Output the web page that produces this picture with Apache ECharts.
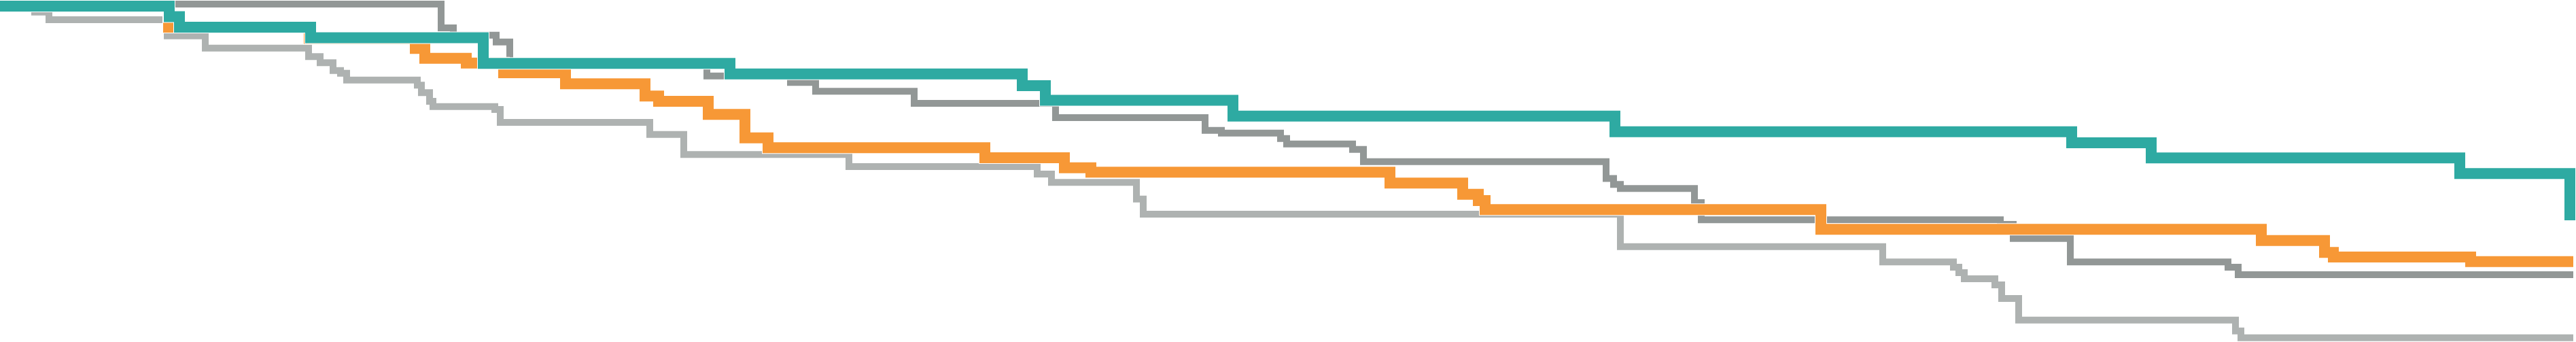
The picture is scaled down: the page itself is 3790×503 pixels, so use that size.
<!DOCTYPE html>
<html>
<head>
<meta charset="utf-8">
<script src="https://cdn.jsdelivr.net/npm/echarts@6/dist/echarts.min.js"></script>
<style>
html,body{margin:0;padding:0;background:#fff;}
#c{width:3790px;height:503px;}
</style>
</head>
<body>
<div id="c"></div>
<script>
// Survival (%) step curves, time in days
const tealTime = [0, 249, 264, 457, 711, 1074, 1504, 1538, 1814, 2376, 3048, 3165, 3619, 3781];
const tealSurv = [100, 98.45, 96.9, 95.35, 91.57, 90.03, 88.3, 86.15, 83.83, 81.53, 79.9, 77.67, 75.37, 68.5];

const orangeTime = [0, 248, 455, 611, 625, 686, 741, 832, 949, 969, 1042, 1096, 1130, 1449, 1566, 1605, 2045, 2152, 2175, 2185, 2679, 3327, 3420, 3433, 3635, 3786];
const orangeSurv = [100, 96.9, 95.25, 93.77, 92.33, 91.63, 90.2, 88.57, 86.77, 86.0, 84.07, 80.63, 79.17, 77.7, 76.23, 75.57, 73.97, 72.33, 71.4, 70.07, 67.17, 65.53, 63.77, 63.1, 62.43, 62.43];

const grayTime = [0, 649, 667, 730, 750, 1040, 1163, 1200, 1345, 1553, 1773, 1797, 1884, 1893, 1990, 2006, 2363, 2374, 2384, 2493, 2503, 2943, 2962, 3046, 3278, 3293, 3786];
const graySurv = [100.3, 96.8, 95.73, 94.73, 91.9, 89.73, 88.77, 87.47, 85.7, 83.6, 81.73, 81.33, 80.53, 79.73, 78.92, 77.13, 74.65, 73.77, 73.17, 71.1, 68.57, 67.9, 65.83, 62.38, 61.6, 60.5, 60.5];

const lightTime = [0, 51, 72, 246, 302, 454, 471, 490, 501, 510, 614, 620, 632, 637, 728, 736, 956, 1006, 1249, 1526, 1547, 1672, 1682, 2384, 2770, 2874, 2882, 2890, 2935, 2945, 2970, 3289, 3297, 3786];
const lightSurv = [100.3, 99.13, 98.0, 95.63, 93.83, 92.57, 91.67, 90.53, 90.13, 89.13, 88.37, 87.27, 86.0, 85.23, 84.8, 82.9, 81.13, 78.17, 76.4, 75.3, 74.07, 71.63, 69.4, 64.63, 62.37, 61.6, 60.8, 59.9, 59.0, 57.0, 53.83, 52.23, 51.23, 51.23];

function pairs(t, s) { return t.map((x, i) => [x, s[i]]); }

const groups = [
  {name: 'light', t: lightTime, s: lightSurv, color: '#aeb2b1', width: 10},
  {name: 'gray', t: grayTime, s: graySurv, color: '#929796', width: 10},
  {name: 'orange', t: orangeTime, s: orangeSurv, color: '#f79836', width: 16},
  {name: 'teal', t: tealTime, s: tealSurv, color: '#2eaaa2', width: 16}
];

const series = [];
groups.forEach(g => {
  const data = pairs(g.t, g.s);
  series.push({
    name: g.name + '-edge', type: 'line', step: 'end', data: data, symbol: 'none',
    clip: false, silent: true,
    lineStyle: {color: '#ffffff', width: g.width + 2, cap: 'butt', join: 'miter'}
  });
  series.push({
    name: g.name, type: 'line', step: 'end', data: data, symbol: 'none',
    clip: false,
    lineStyle: {color: g.color, width: g.width, cap: 'butt', join: 'miter'}
  });
});

const chart = echarts.init(document.getElementById('c'), null, {renderer: 'canvas'});
chart.setOption({
  animation: false,
  backgroundColor: '#ffffff',
  grid: {left: 0, right: 0, top: 0, bottom: 0, outerBoundsMode: 'none'},
  xAxis: {type: 'value', min: 0, max: 3790, show: false},
  yAxis: {type: 'value', min: 50.6, max: 100.9, show: false},
  series: series
});
</script>
</body>
</html>
